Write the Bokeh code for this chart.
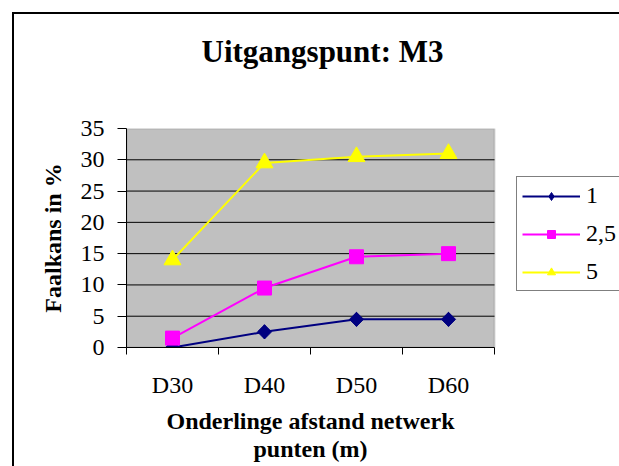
import numpy as np
from bokeh.plotting import figure
from bokeh.models import (ColumnDataSource, FixedTicker, Legend, LegendItem,
                          Title, Range1d, BoxAnnotation)
from bokeh.embed import file_html
from bokeh.resources import INLINE

categories = ["D30", "D40", "D50", "D60"]
series_names = ["1", "2,5", "5"]
values_1 = [0, 2.5, 4.5, 4.5]
values_25 = [1.5, 9.5, 14.5, 15]
values_5 = [14, 29.5, 30.5, 31]
y_ticks = [0, 5, 10, 15, 20, 25, 30, 35]

FONT = "Liberation Serif"
W, H = 619, 466
PLOT_L, PLOT_R, PLOT_T, PLOT_B = 126, 494, 128, 347   # grey plot area in pixels

n = len(categories)
x_pos = [i + 0.5 for i in range(n)]
boundaries = list(range(n + 1))
y_max = y_ticks[-1]
# frame reaches the right window edge so the legend (which is cut off there) can sit in it
x_end = n * (W - PLOT_L) / (PLOT_R - PLOT_L)

p = figure(width=W, height=H, output_backend="svg", toolbar_location=None,
           x_range=Range1d(0, x_end), y_range=Range1d(0, y_max),
           min_border_left=PLOT_L, min_border_right=0,
           min_border_top=PLOT_T, min_border_bottom=H - PLOT_B, title=None)

p.background_fill_color = "white"
p.border_fill_alpha = 0
p.outline_line_color = None
# outer chart-area border (left and top edges visible in the window)
p.styles = {"background": "linear-gradient(#000,#000) 12px 12px / 2px calc(100% - 12px) no-repeat, "
                          "linear-gradient(#000,#000) 12px 12px / calc(100% - 12px) 2px no-repeat, white"}

# grey plot area with its border
area = BoxAnnotation(left=0, right=n, bottom=0, top=y_max,
                     fill_color="#C0C0C0", fill_alpha=1,
                     line_color="#808080", line_width=2, level="underlay")
p.add_layout(area)

# title (spacer keeps it well above the plot area)
p.add_layout(Title(text=" ", text_font_size="1px", standoff=52), "above")
p.add_layout(Title(text="Uitgangspunt: M3", text_font=FONT, text_font_size="31px",
                   text_font_style="bold", text_color="black", align="left",
                   offset=75, standoff=10), "above")

# grid lines (restricted to the plot area)
p.grid.visible = False
grid_y = y_ticks[1:-1]
p.segment(x0=[0] * len(grid_y), x1=[n] * len(grid_y), y0=grid_y, y1=grid_y,
          line_color="black", line_width=1)

# y axis
ya = p.yaxis[0]
ya.ticker = FixedTicker(ticks=y_ticks)
ya.major_tick_out = 9
ya.major_tick_in = 0
ya.minor_tick_out = 0
ya.minor_tick_in = 0
ya.major_label_standoff = 13
ya.major_label_text_font = FONT
ya.major_label_text_font_size = "24px"
ya.major_label_text_color = "black"
ya.axis_line_color = "black"
ya.major_tick_line_color = "black"
ya.axis_label = "Faalkans in %"
ya.axis_label_text_font = FONT
ya.axis_label_text_font_size = "24px"
ya.axis_label_text_font_style = "bold"
ya.axis_label_text_color = "black"
ya.axis_label_standoff = 12

# x axis: labels at category centres, tick marks at category boundaries
xa = p.xaxis[0]
xa.bounds = (0, n)
xa.ticker = FixedTicker(ticks=x_pos, minor_ticks=boundaries)
xa.major_label_overrides = {xp: c for xp, c in zip(x_pos, categories)}
xa.major_tick_out = 0
xa.major_tick_in = 0
xa.minor_tick_out = 7
xa.minor_tick_in = 0
xa.minor_tick_line_color = "black"
xa.axis_line_color = "black"
xa.major_label_standoff = 17
xa.major_label_text_font = FONT
xa.major_label_text_font_size = "24px"
xa.major_label_text_color = "black"

# x axis title (two centred lines under the grey plot area)
p.add_layout(Title(text=" ", text_font_size="1px", standoff=2), "below")
p.add_layout(Title(text="Onderlinge afstand netwerk", text_font=FONT,
                   text_font_size="24px", text_font_style="bold", text_color="black",
                   align="left", offset=40, standoff=0), "below")
p.add_layout(Title(text="punten (m)", text_font=FONT,
                   text_font_size="24px", text_font_style="bold", text_color="black",
                   align="left", offset=127, standoff=0), "below")

colors = ["#000080", "#FF00FF", "#FFFF00"]
markers = ["square", "square", "triangle"]
angles = [np.pi / 4, 0, 0]
sizes = [10, 14, 17]
series = [values_1, values_25, values_5]

items = []
for name, vals, col, mk, ang, sz in zip(series_names, series, colors, markers, angles, sizes):
    src = ColumnDataSource(dict(x=x_pos, y=vals))
    ln = p.line("x", "y", source=src, line_color=col, line_width=2)
    key = None
    if ang != 0:
        # legend keys ignore marker rotation, so a diamond (hidden beneath the
        # rotated square in the plot) provides the legend symbol
        key = p.scatter("x", "y", source=src, marker="diamond", size=sz * 1.4,
                        fill_color=col, line_color=col)
    sc = p.scatter("x", "y", source=src, marker=mk, size=sz, angle=ang,
                   fill_color=col, line_color=col)
    items.append(LegendItem(label=name, renderers=[ln, key if key is not None else sc]))

legend = Legend(items=items, location=(516 - PLOT_L, 56), orientation="vertical",
                label_text_font=FONT, label_text_font_size="24px",
                label_text_color="black",
                glyph_width=58, glyph_height=20, label_height=20,
                label_width=40, label_standoff=6, spacing=11, padding=5,
                margin=0, border_line_color="black", border_line_width=1,
                background_fill_color="white", background_fill_alpha=1)
p.add_layout(legend, "center")

open("out.html", "w").write(file_html(p, INLINE))
